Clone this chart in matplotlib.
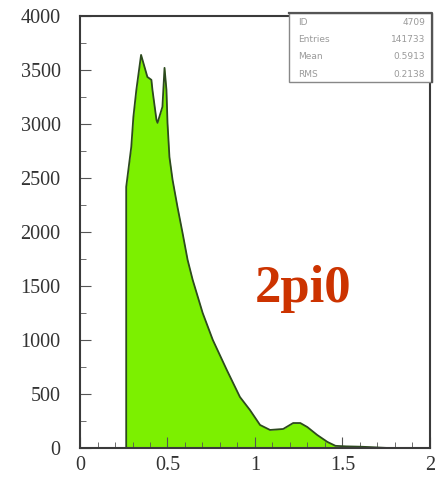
import matplotlib.pyplot as plt
from matplotlib.ticker import MultipleLocator

# invariant mass spectrum, read bin by bin
mass = [0.264, 0.264, 0.293, 0.305, 0.322, 0.349, 0.385, 0.408, 0.414, 0.437,
        0.443, 0.471, 0.483, 0.494, 0.500, 0.511, 0.529, 0.557, 0.586, 0.615,
        0.644, 0.701, 0.759, 0.839, 0.914, 0.971, 1.029, 1.086, 1.161, 1.218,
        1.259, 1.299, 1.356, 1.414, 1.460, 1.520, 1.600, 1.660, 1.760]
counts = [0, 2417, 2787, 3065, 3315, 3639, 3435, 3408, 3315, 3037,
          3010, 3158, 3519, 3315, 3010, 2695, 2482, 2232, 1991, 1741,
          1556, 1250, 1000, 722, 472, 352, 213, 167, 176, 231,
          231, 194, 120, 56, 20, 15, 12, 8, 0]

stat_names = ["ID", "Entries", "Mean", "RMS"]
stat_values = ["4709", "141733", "0.5913", "0.2138"]

fig = plt.figure(figsize=(4.43, 4.91), dpi=100)
ax = fig.add_axes([0.1806, 0.0876, 0.790, 0.880])

ax.fill_between(mass, counts, color="#7cf000", lw=0)
ax.plot(mass, counts, color="#2d4a1e", lw=1.3)

ax.set_xlim(0, 2)
ax.set_ylim(0, 4000)
ax.xaxis.set_major_locator(MultipleLocator(0.5))
ax.xaxis.set_minor_locator(MultipleLocator(0.1))
ax.yaxis.set_major_locator(MultipleLocator(500))
ax.yaxis.set_minor_locator(MultipleLocator(250))
ax.set_xticks([0, 0.5, 1, 1.5, 2])
ax.set_xticklabels(["0", "0.5", "1", "1.5", "2"])
ax.tick_params(which="both", direction="in", top=False, right=False,
               color="#555555", labelcolor="#333333")
ax.tick_params(which="major", length=8, labelsize=14.5, pad=6)
ax.tick_params(which="minor", length=4)
for lab in ax.get_xticklabels() + ax.get_yticklabels():
    lab.set_family("Liberation Serif")
ax.tick_params(axis="y", pad=14)
for sp in ax.spines.values():
    sp.set_color("#3a3a3a")
    sp.set_linewidth(1.5)

ax.text(0.637, 0.338, "2pi0", transform=ax.transAxes, ha="center", va="baseline",
        fontsize=38, fontweight="bold", family="Liberation Serif", color="#cc3300")

# statistics box in the upper right corner
bx0, by0, bx1, by1 = 289 / 443, 1 - 82 / 491, 432 / 443, 1 - 13 / 491
box = plt.Rectangle((bx0, by0), bx1 - bx0, by1 - by0, transform=fig.transFigure,
                    facecolor="white", edgecolor="#888888", lw=1.0, zorder=5)
fig.patches.append(box)
fig.add_artist(plt.Line2D([bx0, bx1, bx1], [by1, by1, by0], transform=fig.transFigure,
                          color="#555555", lw=1.6, zorder=6))
row_h = (by1 - by0) / 4
for i, (name, val) in enumerate(zip(stat_names, stat_values)):
    yy = by1 - (i + 0.55) * row_h
    fig.text(bx0 + 0.02, yy, name, fontsize=6.5, color="#9a9a9a", va="center",
             family="DejaVu Sans", zorder=7)
    fig.text(bx1 - 0.015, yy, val, fontsize=6.5, color="#9a9a9a", va="center",
             ha="right", family="DejaVu Sans", zorder=7)

fig.savefig("out.png", dpi=100)
